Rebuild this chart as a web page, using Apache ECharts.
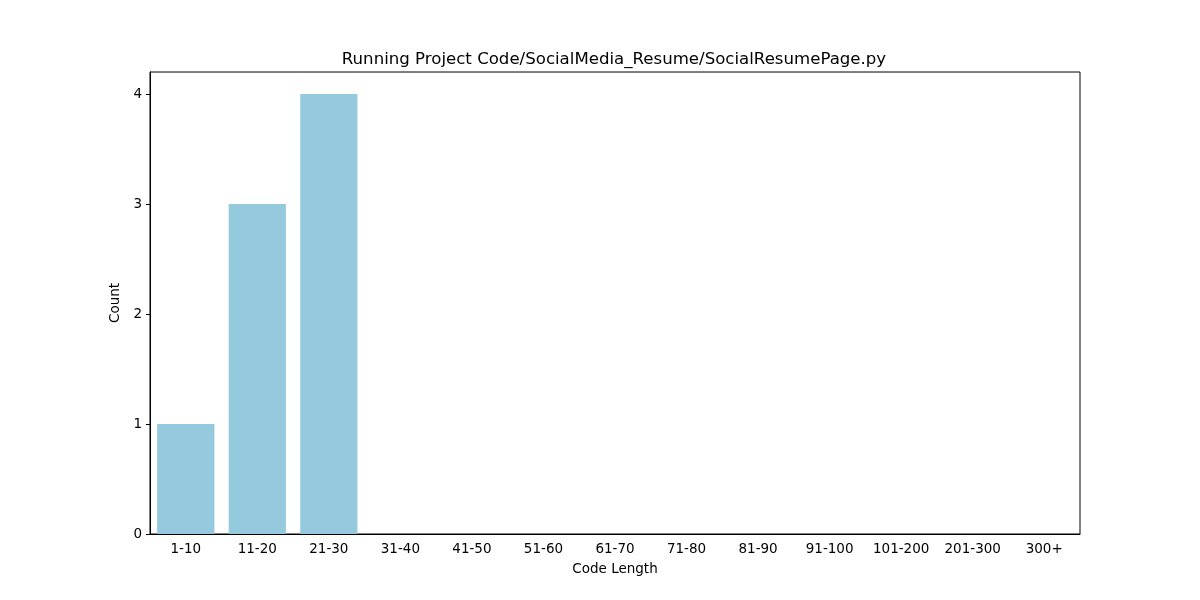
<!DOCTYPE html>
<html style="height: 100%">
<head>
  <meta charset="utf-8">
  <title>code-length</title>
  <script src="https://cdn.jsdelivr.net/npm/echarts@6/dist/echarts.min.js"></script>
</head>
<body style="height: 100%; margin: 0">
<div id="main" style="width: 1200px; height: 600px"></div>

<script type="text/javascript">
  var categories = ['1-10', '11-20', '21-30', '31-40', '41-50', '51-60', '61-70', '71-80',
    '81-90', '91-100', '101-200', '201-300', '300+'];
  var counts = [1, 3, 4, 0, 0, 0, 0, 0, 0, 0, 0, 0, 0];
  var yTicks = [0, 1, 2, 3, 4];

  var font = 'DejaVu Sans';
  var chart = echarts.init(document.getElementById('main'));

  chart.setOption({
    animation: false,
    title: {
      text: 'Running Project Code/SocialMedia_Resume/SocialResumePage.py',
      left: 609,
      top: 46,
      textAlign: 'center',
      textStyle: { fontFamily: font, fontSize: 16.6, fontWeight: 'normal', color: '#000' }
    },
    grid: {
      left: 150, right: 120, top: 72, bottom: 66,
      show: true, borderColor: '#000', borderWidth: 1
    },
    xAxis: {
      type: 'category',
      data: categories,
      name: 'Code Length',
      nameLocation: 'middle',
      nameGap: 28,
      nameTextStyle: { fontFamily: font, fontSize: 13.5, color: '#000' },
      axisLine: { lineStyle: { color: '#000' } },
      axisTick: { alignWithLabel: true, length: 4, lineStyle: { color: '#000' } },
      axisLabel: { fontFamily: font, fontSize: 13.5, color: '#000', margin: 8, interval: 0 }
    },
    yAxis: {
      type: 'value',
      min: 0,
      max: 4.2,
      interval: 1,
      name: 'Count',
      nameLocation: 'middle',
      nameGap: 28,
      nameTextStyle: { fontFamily: font, fontSize: 13.5, color: '#000' },
      splitLine: { show: false },
      axisLine: { show: true, lineStyle: { color: '#000' } },
      axisTick: { show: true, length: 4, customValues: yTicks, lineStyle: { color: '#000' } },
      axisLabel: { fontFamily: font, fontSize: 13.5, color: '#000', margin: 8, customValues: yTicks }
    },
    series: [{
      type: 'bar',
      data: counts,
      barWidth: '80%',
      itemStyle: { color: '#95c9de' }
    }]
  });
</script>
</body>
</html>
